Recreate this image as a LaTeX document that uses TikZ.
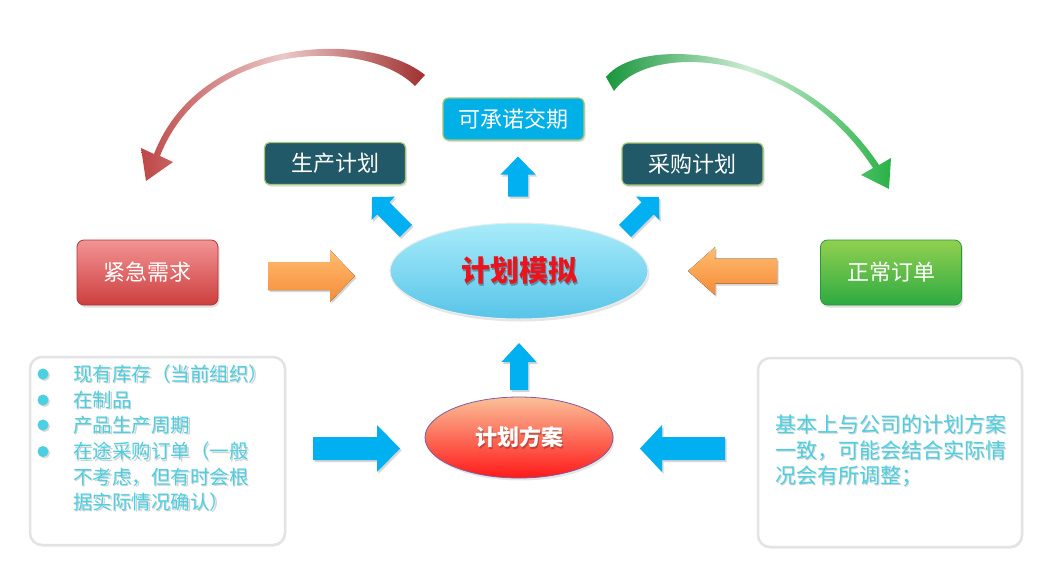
\documentclass[tikz,border=0pt]{standalone}
\usepackage{fontspec}
\setmainfont{Noto Sans CJK SC}
\usetikzlibrary{shadows,shapes.geometric}
\definecolor{cyanbox}{RGB}{0,176,230}
\definecolor{tealbox}{RGB}{33,89,104}
\definecolor{boxedge}{RGB}{165,198,115}
\definecolor{redtop}{RGB}{243,148,148}
\definecolor{redbot}{RGB}{205,62,62}
\definecolor{greentop}{RGB}{146,208,80}
\definecolor{greenbot}{RGB}{45,170,65}
\definecolor{simtop}{RGB}{168,236,250}
\definecolor{simbot}{RGB}{88,196,232}
\definecolor{plantop}{RGB}{250,192,152}
\definecolor{planbot}{RGB}{255,25,25}
\definecolor{planedge}{RGB}{130,90,160}
\definecolor{orangetop}{RGB}{255,188,112}
\definecolor{orangebot}{RGB}{245,140,55}
\definecolor{blockblue}{RGB}{0,176,240}
\definecolor{listtext}{RGB}{75,208,225}
\definecolor{simred}{RGB}{235,20,30}
\definecolor{arrred}{RGB}{190,70,70}
\definecolor{arrredlight}{RGB}{235,200,200}
\definecolor{arrreddark}{RGB}{160,48,48}
\definecolor{arrgreen}{RGB}{25,150,60}
\definecolor{arrgreenlight}{RGB}{205,236,212}
\definecolor{arrgreendark}{RGB}{40,178,70}
% block arrow: #1,#2 centre, #3 transform, #4 length, #5 head length,
% #6 shaft half width, #7 head half width, #8 fill style
\newcommand\blockarrow[8]{%
  \begin{scope}[shift={(#1+1.5,#2+2)},#3]
    \fill[black,opacity=.16] ({-#4/2},{-#6}) -- ({#4/2-#5},{-#6}) -- ({#4/2-#5},{-#7}) -- ({#4/2},0) -- ({#4/2-#5},{#7}) -- ({#4/2-#5},{#6}) -- ({-#4/2},{#6}) -- cycle;
  \end{scope}
  \begin{scope}[shift={(#1,#2)},#3]
    \fill[#8] ({-#4/2},{-#6}) -- ({#4/2-#5},{-#6}) -- ({#4/2-#5},{-#7}) -- ({#4/2},0) -- ({#4/2-#5},{#7}) -- ({#4/2-#5},{#6}) -- ({-#4/2},{#6}) -- cycle;
  \end{scope}}
\begin{document}
\begin{tikzpicture}[x=1pt,y=-1pt,
  tbox/.style={rectangle, rounded corners=5pt, minimum width=141pt, minimum height=42pt,
    text=white, font=\fontsize{22}{26}\selectfont, line width=1.2pt, inner sep=0pt,
    drop shadow={shadow xshift=1.5pt,shadow yshift=-2pt,opacity=.25}},
  cyanb/.style={tbox, fill=cyanbox, draw=boxedge},
  tealb/.style={tbox, fill=tealbox, draw=boxedge},
  bigbox/.style={rectangle, rounded corners=7pt, minimum width=141pt, minimum height=65pt,
    text=white, font=\fontsize{22}{26}\selectfont, line width=.8pt, inner sep=0pt,
    drop shadow={shadow xshift=1.5pt,shadow yshift=-2.5pt,opacity=.25}},
  redb/.style={bigbox, top color=redtop, bottom color=redbot, draw=redbot!85!black},
  greenb/.style={bigbox, top color=greentop, bottom color=greenbot, draw=greenbot!90!black},
  simell/.style={ellipse, minimum width=258pt, minimum height=96pt, inner sep=0pt,
    top color=simtop, bottom color=simbot, draw=white!85!gray, line width=1pt,
    drop shadow={shadow xshift=1.5pt,shadow yshift=-2.5pt,opacity=.2}},
  planell/.style={ellipse, minimum width=188pt, minimum height=81pt, inner sep=0pt,
    top color=plantop, bottom color=planbot, draw=planedge, line width=.8pt,
    drop shadow={shadow xshift=1.5pt,shadow yshift=-2.5pt,opacity=.2}},
  listbox/.style={rectangle, rounded corners=12pt, draw=gray!22, line width=2.5pt, fill=white,
    drop shadow={shadow xshift=1pt,shadow yshift=-1.5pt,opacity=.12}},
  listtxt/.style={text=listtext, font=\fontsize{19.5}{25}\selectfont, inner sep=0pt, anchor=base west},
  listshd/.style={text=gray, opacity=.35, font=\fontsize{19.5}{25}\selectfont, inner sep=0pt, anchor=base west},
  righttxt/.style={text=listtext, font=\fontsize{21}{26}\selectfont, inner sep=0pt, anchor=base west},
  rightshd/.style={text=gray, opacity=.35, font=\fontsize{21}{26}\selectfont, inner sep=0pt, anchor=base west},
  bluefill/.style={fill=blockblue},
  orangefill/.style={top color=orangetop, bottom color=orangebot}]
\useasboundingbox[fill=white] (0,0) rectangle (1037,573);

% curved arrows
\shade[left color=arrred, right color=arrreddark, middle color=arrredlight]
  (425,75) .. controls (370,30) and (200,35) .. (154,154)
  -- (141,148) -- (146,181) -- (173,162) -- (160,156)
  .. controls (205,41) and (365,36) .. (415,86) -- cycle;
\shade[left color=arrgreen, right color=arrgreendark, middle color=arrgreenlight]
  (606,77) .. controls (640,34) and (800,45) .. (879,165)
  -- (891,158) -- (889,189) -- (861,175) -- (873,168)
  .. controls (795,49) and (650,41) .. (614,91) -- cycle;

% boxes
\node[cyanb] (promise) at (513.5,119) {可承诺交期};
\node[tealb] (prod) at (335,163.5) {生产计划};
\node[tealb] (purch) at (692.5,164) {采购计划};
\node[redb] (urgent) at (147.5,272.5) {紧急需求};
\node[greenb] (normal) at (891,272.5) {正常订单};
\node[simell] (sim) at (519,271) {};
\node[text=black, opacity=.3, font=\fontsize{29}{32}\selectfont\bfseries] at (520.5,273) {计划模拟};
\node[text=simred, font=\fontsize{29}{32}\selectfont\bfseries] (simtxt) at (519,271) {计划模拟};
\node[planell] (plan) at (519,437.5) {};
\node[text=black, opacity=.25, font=\fontsize{22}{26}\selectfont\bfseries] at (520.5,439) {计划方案};
\node[text=white, font=\fontsize{22}{26}\selectfont\bfseries] (plantxt) at (519,437.5) {计划方案};

% block arrows
\blockarrow{518}{176.5}{rotate=90}{40}{18}{10}{17.5}{bluefill}
\blockarrow{519}{366.5}{rotate=90}{47}{19}{9}{17.5}{bluefill}
\blockarrow{389}{214}{rotate=135}{48}{16}{8.5}{16.5}{bluefill}
\blockarrow{642}{214}{rotate=45}{48}{16}{8.5}{16.5}{bluefill}
\blockarrow{311.5}{276}{rotate=0}{87}{25}{14}{26}{orangefill}
\blockarrow{732.5}{271}{xscale=-1}{89}{27}{12.5}{24}{orangefill}
\blockarrow{356.5}{448.5}{rotate=0}{87}{23}{11.5}{23.5}{bluefill}
\blockarrow{682.5}{448.5}{xscale=-1}{85}{22}{11.5}{23.5}{bluefill}

% left list box
\node[listbox, minimum width=255pt, minimum height=188pt] (lbox) at (157.5,451) {};
\foreach \yy in {374,400,425,451.5}{
  \fill[gray,opacity=.3] (44.5,\yy+1.5) circle (5.5);
  \fill[listtext] (43,\yy) circle (5.5);
}
\node[listshd] at (74.5,382.7) {现有库存（当前组织）};
\node[listtxt] (l1) at (73,381.2) {现有库存（当前组织）};
\node[listshd] at (74.5,408.7) {在制品};
\node[listtxt] (l2) at (73,407.2) {在制品};
\node[listshd] at (74.5,433.7) {产品生产周期};
\node[listtxt] (l3) at (73,432.2) {产品生产周期};
\node[listshd] at (74.5,460.2) {在途采购订单（一般};
\node[listtxt] (l4) at (73,458.7) {在途采购订单（一般};
\node[listshd] at (74.5,485.7) {不考虑，但有时会根};
\node[listtxt] (l5) at (73,484.2) {不考虑，但有时会根};
\node[listshd] at (74.5,510.7) {据实际情况确认）};
\node[listtxt] (l6) at (73,509.2) {据实际情况确认）};

% right text box
\node[listbox, minimum width=264pt, minimum height=189pt] (rbox) at (890,452.5) {};
\node[rightshd] at (776.5,433.5) {基本上与公司的计划方案};
\node[righttxt] (r1) at (775,432) {基本上与公司的计划方案};
\node[rightshd] at (776.5,459.5) {一致，可能会结合实际情};
\node[righttxt] (r2) at (775,458) {一致，可能会结合实际情};
\node[rightshd] at (776.5,484.5) {况会有所调整；};
\node[righttxt] (r3) at (775,483) {况会有所调整；};
\end{tikzpicture}
\end{document}
